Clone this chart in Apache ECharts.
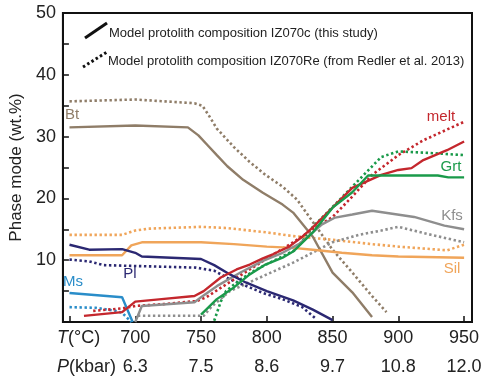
<!DOCTYPE html>
<html><head><meta charset="utf-8">
<script src="https://cdn.jsdelivr.net/npm/echarts@6/dist/echarts.min.js"></script>
<style>html,body{margin:0;padding:0;background:#fff}#c{width:486px;height:385px}</style>
</head><body><div id="c"></div>
<script>
// Temperature ticks and pressure labels
const tempTicks = [650, 700, 750, 800, 850, 900, 950];
const tempLabels = [700, 750, 800, 850, 900, 950];
const pressLabels = ['6.3', '7.5', '8.6', '9.7', '10.8', '12.0'];
const yTicks = [10, 20, 30, 40, 50];

// [T (°C), phase mode (wt%)]
const btSolid = [[650,31.5],[700,31.8],[740,31.5],[748,30.2],[755,28.6],[762,27],[770,25.2],[782,23],[797,20.9],[812,19],[820,17.7],[835,13.8],[850,8],[865,4.8],[880,0.8]];
const btDot = [[650,35.7],[700,36],[745,35.4],[751,35],[756,33.4],[762,31.3],[775,28.3],[787,25.9],[799,23.8],[812,21.9],[823,19.8],[835,16.2],[850,11.7],[865,8],[880,4.2],[891,1.6]];
const meltSolid = [[661,1],[690,1.6],[700,3.3],[720,3.7],[745,4.2],[752,5],[765,7.2],[777,8.5],[787,9.3],[797,10.3],[805,11],[817,12.2],[827,13.8],[835,15.3],[850,18.5],[865,21.7],[887,23.8],[900,24.6],[910,24.9],[919,26.2],[937,27.8],[950,29.2]];
const meltDot = [[668,1.8],[690,2.2],[700,2.6],[722,2.9],[747,3.4],[754,4],[767,5.8],[787,8.5],[807,11.2],[820,12.9],[835,15],[850,17],[865,20.3],[880,23.8],[900,27],[919,29.4],[950,32.4]];
const grtSolid = [[750,1.2],[762,3.7],[775,5.6],[787,7.7],[799,9.3],[812,10.4],[820,11.4],[835,14.5],[850,18.5],[865,21],[877,23.7],[900,23.7],[930,23.7],[938,23.4],[950,23.4]];
const grtDot = [[760,0.2],[765,3.3],[769,5],[780,6.9],[792,8.5],[807,10.1],[822,11.7],[835,15.4],[850,18.6],[865,21.9],[887,26.7],[900,27.6],[920,27.4],[950,27]];
const kfsSolid = [[700,0],[705,2.6],[745,3.2],[750,4],[762,5.8],[780,8],[797,9.9],[812,11.2],[825,12.7],[835,14.5],[842,15.8],[852,16.9],[865,17.4],[880,18],[912,17],[935,15.6],[950,15]];
const kfsDot = [[702,1],[752,1],[758,2.5],[772,5],[800,7.7],[820,9.6],[850,12.9],[870,14.1],[887,14.8],[900,15.4],[925,14.1],[950,12.9]];
const silSolid = [[650,10.8],[690,10.8],[697,12.4],[705,12.9],[750,12.9],[775,12.6],[800,12.2],[820,12],[835,11.7],[857,11.2],[880,10.8],[900,10.6],[950,10.4]];
const silDot = [[650,14.1],[690,14.1],[700,14.8],[710,15.1],[750,15.4],[770,15.2],[800,14.5],[820,13.9],[850,13.3],[880,12.6],[900,12.2],[937,11.6],[950,12.5]];
const plSolid = [[650,12.5],[665,11.7],[690,11.8],[700,11.2],[705,10.6],[750,10.2],[760,9.2],[772,7.7],[784,6.4],[800,5],[820,3.5],[835,2],[850,0.3]];
const plDot = [[650,10.1],[665,9.8],[676,9.2],[746,8.8],[760,8.3],[772,6.9],[787,5.6],[797,4.7],[812,3.7],[827,2.4],[837,0.6]];
const msSolid = [[650,4.7],[690,4],[698,0]];
const msDot = [[650,2.4],[670,2.3],[685,1.8],[690,1.5],[697,0]];

const C = {bt:'#8f7d68', melt:'#c4272d', grt:'#1a9a4a', kfs:'#8e8e8e', sil:'#f0a55a', pl:'#2b2872', ms:'#2a8dc9'};

function ln(data, color, dotted) {
  return {
    type: 'line', data: data, showSymbol: false, symbol: 'none', silent: true,
    lineStyle: dotted ? {color: color, width: 2.6, type: [2.4, 2.6], cap: 'butt'} : {color: color, width: 2.4},
    z: dotted ? 2 : 3
  };
}

const chart = echarts.init(document.getElementById('c'), null, {renderer: 'canvas'});
const font = 'Liberation Sans, Arial, sans-serif';
chart.setOption({
  animation: false,
  grid: {left: 57, right: 14, top: 13, bottom: 63, show: true, borderColor: '#111', borderWidth: 2, backgroundColor: 'transparent'},
  xAxis: {
    type: 'value', min: 645, max: 956,
    axisLine: {show: true, onZero: false, lineStyle: {color: '#111', width: 2}},
    axisTick: {show: true, inside: true, length: 6, customValues: tempTicks, lineStyle: {color: '#111', width: 1.5}},
    axisLabel: {customValues: tempLabels, fontSize: 18, fontFamily: font, color: '#222', lineHeight: 29, margin: 2,
      formatter: function (v) { const i = tempLabels.indexOf(v); return v + '\n' + (i >= 0 ? pressLabels[i] : ''); }},
    splitLine: {show: false}
  },
  yAxis: {
    type: 'value', min: 0, max: 50, interval: 5,
    name: 'Phase mode (wt.%)', nameLocation: 'middle', nameGap: 33, nameRotate: 90,
    nameTextStyle: {fontSize: 17, fontFamily: font, color: '#222'},
    axisLine: {show: true, lineStyle: {color: '#111', width: 2}},
    axisTick: {show: true, inside: true, length: 6, lineStyle: {color: '#111', width: 1.5}},
    axisLabel: {fontSize: 18, fontFamily: font, color: '#222', margin: 7,
      formatter: function (v) { return yTicks.indexOf(v) >= 0 ? String(v) : ''; }},
    splitLine: {show: false}
  },
  series: [
    ln(btDot, C.bt, true), ln(btSolid, C.bt, false),
    ln(silDot, C.sil, true), ln(silSolid, C.sil, false),
    ln(kfsDot, C.kfs, true), ln(kfsSolid, C.kfs, false),
    ln(plDot, C.pl, true), ln(plSolid, C.pl, false),
    ln(msDot, C.ms, true), ln(msSolid, C.ms, false),
    ln(meltDot, C.melt, true), ln(meltSolid, C.melt, false),
    ln(grtDot, C.grt, true), ln(grtSolid, C.grt, false)
  ],
  graphic: [
    {type: 'line', shape: {x1: 85, y1: 38, x2: 107, y2: 23}, style: {stroke: '#111', lineWidth: 3}},
    {type: 'line', shape: {x1: 83, y1: 67, x2: 107, y2: 52}, style: {stroke: '#111', lineWidth: 3, lineDash: [2.5, 2.5]}},
    {type: 'text', left: 109, top: 27, style: {text: 'Model protolith composition IZ070c (this study)', font: '13px ' + font, fill: '#222'}},
    {type: 'text', left: 108, top: 55, style: {text: 'Model protolith composition IZ070Re (from Redler et al. 2013)', font: '13px ' + font, fill: '#222'}},
    {type: 'text', x: 72, y: 115, style: {text: 'Bt', font: '15px ' + font, fill: C.bt, align: 'center', verticalAlign: 'middle'}},
    {type: 'text', x: 441, y: 117, style: {text: 'melt', font: '15px ' + font, fill: C.melt, align: 'center', verticalAlign: 'middle'}},
    {type: 'text', x: 451, y: 167, style: {text: 'Grt', font: '15px ' + font, fill: C.grt, align: 'center', verticalAlign: 'middle'}},
    {type: 'text', x: 452, y: 216, style: {text: 'Kfs', font: '15px ' + font, fill: C.kfs, align: 'center', verticalAlign: 'middle'}},
    {type: 'text', x: 452, y: 269, style: {text: 'Sil', font: '15px ' + font, fill: C.sil, align: 'center', verticalAlign: 'middle'}},
    {type: 'text', x: 130, y: 274, style: {text: 'Pl', font: '15px ' + font, fill: C.pl, align: 'center', verticalAlign: 'middle'}},
    {type: 'text', x: 73, y: 282, style: {text: 'Ms', font: '15px ' + font, fill: C.ms, align: 'center', verticalAlign: 'middle'}},
    {type: 'text', x: 57, y: 338, style: {text: '{i|T}(°C)', verticalAlign: 'middle', rich: {i: {fontStyle: 'italic', fontSize: 18, fontFamily: font, fill: '#222'}}, font: '18px ' + font, fill: '#222'}},
    {type: 'text', x: 57, y: 367, style: {text: '{i|P}(kbar)', verticalAlign: 'middle', rich: {i: {fontStyle: 'italic', fontSize: 18, fontFamily: font, fill: '#222'}}, font: '18px ' + font, fill: '#222'}}
  ]
});
</script></body></html>
